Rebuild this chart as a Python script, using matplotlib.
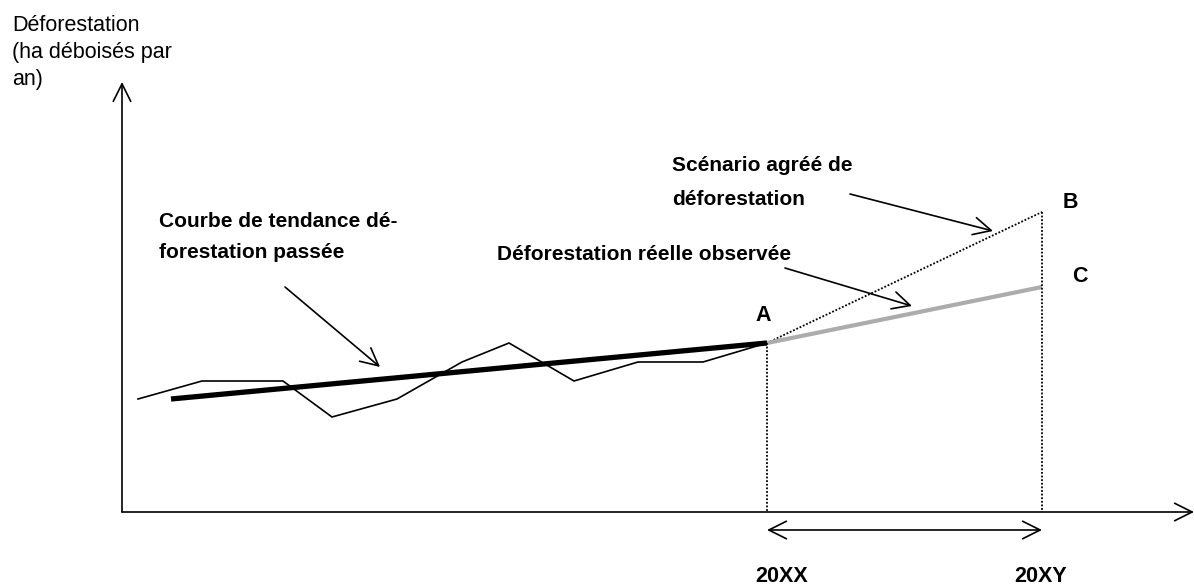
import matplotlib
matplotlib.use("Agg")
import matplotlib.pyplot as plt

plt.rcParams['font.family'] = ['Liberation Sans Narrow', 'Liberation Sans', 'DejaVu Sans']

# valeurs (unites = pixels du schema, y vers le bas)
obs_x = [138, 202, 283, 332, 397, 462, 509, 574, 638, 703, 767]
obs_y = [399, 381, 381, 417, 399, 362, 343, 381, 362, 362, 343]
trend_x = [171, 767]
trend_y = [399, 343]
reel_x = [767, 1042]
reel_y = [343, 287]
scen_x = [767, 1042]
scen_y = [343, 212]
x_axis_y = 512
y_axis_x = 122
periode = [767, 1042]
labels_periode = ["20XX", "20XY"]

fig = plt.figure(figsize=(11.94, 5.85), dpi=100)
ax = fig.add_axes([0, 0, 1, 1])
ax.set_xlim(0, 1194)
ax.set_ylim(585, 0)
ax.axis('off')

head = dict(arrowstyle='->,head_length=0.9,head_width=0.45', lw=1.2, color='black',
            shrinkA=0, shrinkB=0, mutation_scale=14)

# axes
ax.annotate('', xy=(y_axis_x, 82), xytext=(y_axis_x, x_axis_y), arrowprops=head)
ax.annotate('', xy=(1194, x_axis_y), xytext=(y_axis_x, x_axis_y), arrowprops=head)

# courbes
ax.plot(obs_x, obs_y, color='black', lw=1.2, solid_joinstyle='miter')
ax.plot(scen_x, scen_y, color='black', lw=1.3, ls=(0, (1, 1)))
ax.plot(reel_x, reel_y, color='#acacac', lw=3.0, solid_capstyle='butt')
ax.plot(trend_x, trend_y, color='black', lw=3.8, solid_capstyle='butt')

# verticales pointillees
ax.plot([periode[0], periode[0]], [reel_y[0], x_axis_y], color='black', lw=1.3, ls=(0, (1, 1)))
ax.plot([periode[1], periode[1]], [scen_y[1], x_axis_y], color='black', lw=1.3, ls=(0, (1, 1)))

# double fleche periode
dbl = dict(head)
dbl['arrowstyle'] = '<->,head_length=0.9,head_width=0.45'
ax.annotate('', xy=(periode[1], 530), xytext=(periode[0], 530), arrowprops=dbl)

for xp, lab in zip([782, 1041], labels_periode):
    ax.text(xp, 582, lab, ha='center', va='baseline', fontsize=15.5, fontweight='bold')

# titre de l'axe y
ax.text(12, 15, "Déforestation\n(ha déboisés par\nan)", ha='left', va='top',
        fontsize=15.5, linespacing=1.38)

bold = dict(fontsize=15, fontweight='bold', va='baseline', ha='left')
ax.text(159, 227, "Courbe de tendance dé-", **bold)
ax.text(159, 258, "forestation passée", **bold)
ax.text(497, 260, "Déforestation réelle observée", **bold)
ax.text(672, 171, "Scénario agréé de", **bold)
ax.text(672, 205, "déforestation", **bold)
ax.text(763, 321, "A", ha='center', va='baseline', fontsize=15.5, fontweight='bold')
ax.text(1070, 208, "B", ha='center', va='baseline', fontsize=15.5, fontweight='bold')
ax.text(1080, 282, "C", ha='center', va='baseline', fontsize=15.5, fontweight='bold')

# fleches d'annotation
ax.annotate('', xy=(380, 367), xytext=(285, 287), arrowprops=head)
ax.annotate('', xy=(993, 231), xytext=(850, 194), arrowprops=head)
ax.annotate('', xy=(912, 306), xytext=(785, 268), arrowprops=head)

fig.savefig("out.png", dpi=100)
